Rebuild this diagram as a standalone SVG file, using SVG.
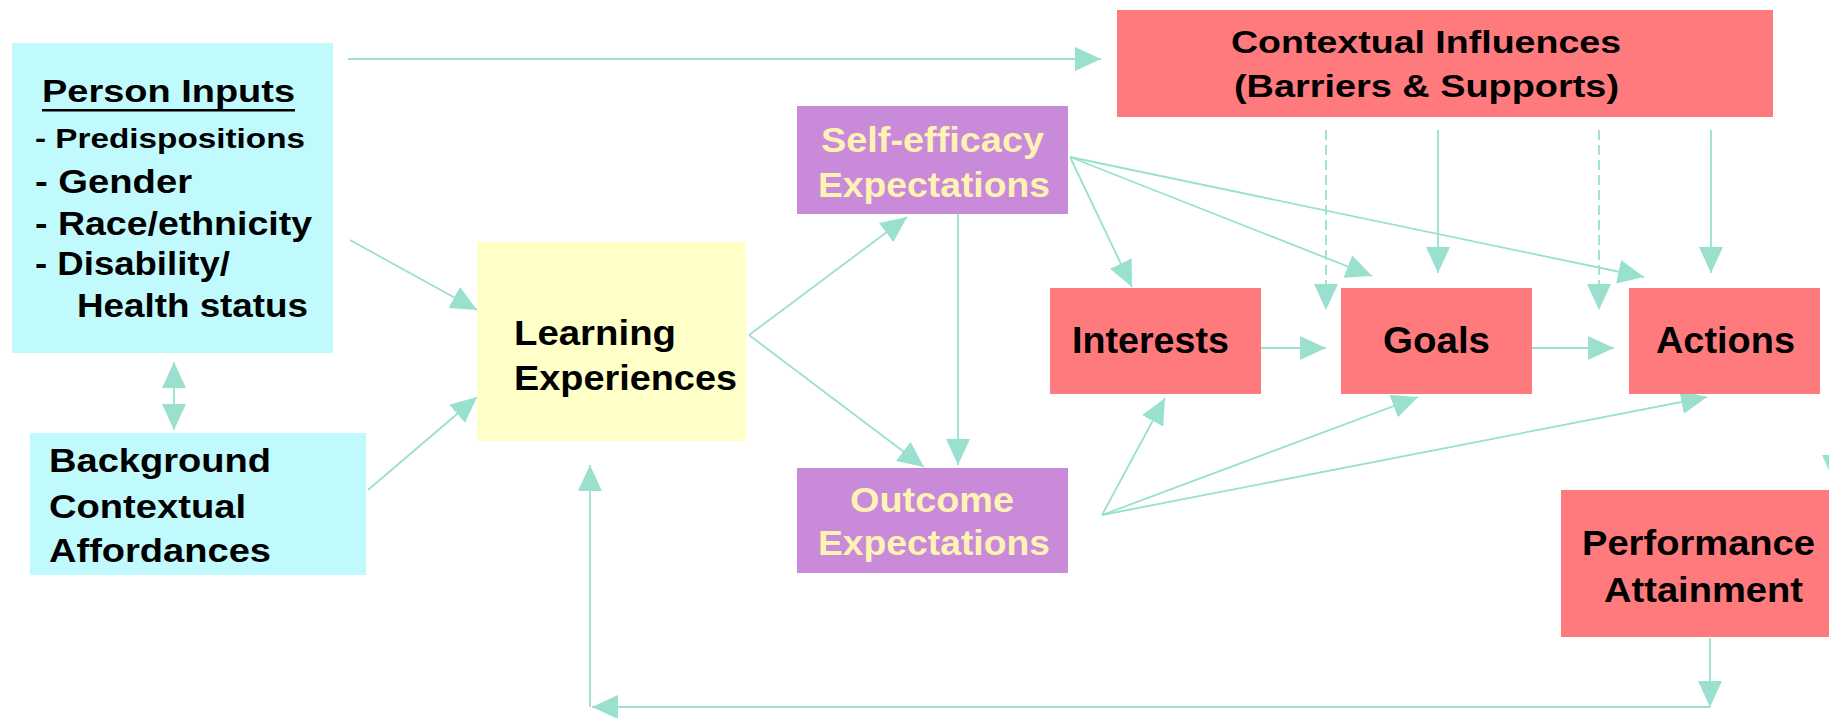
<svg xmlns="http://www.w3.org/2000/svg" width="1829" height="718" viewBox="0 0 1829 718">
  <style>
    .t { font-family: "Liberation Sans", Arial, sans-serif; font-weight: bold; fill: #000; }
    .cream { fill: #FFF3B4; }
    .box-cyan { fill: #C0FAFC; }
    .box-yellow { fill: #FFFFC8; }
    .box-purple { fill: #C98AD9; }
    .box-red { fill: #FF7A7D; }
    .conn { stroke: #99E0CF; stroke-width: 1.8; fill: none; }
    .arrow { marker-end: url(#head); }
    .dash { stroke-dasharray: 10 5; }
  </style>
  <defs>
    <marker id="head" markerUnits="userSpaceOnUse" markerWidth="26" markerHeight="24" refX="26" refY="12" orient="auto-start-reverse">
      <path d="M0,0 L26,12 L0,24 z" fill="#99E0CF"/>
    </marker>
  </defs>

  <rect width="1829" height="718" fill="#FFFFFF"/>

  <!-- connectors -->
  <g id="connectors">
    <line class="conn arrow" x1="348" y1="59" x2="1101" y2="59"/>
    <line class="conn arrow" x1="350" y1="240" x2="477" y2="310"/>
    <line class="conn arrow" x1="368" y1="490" x2="477" y2="397"/>
    <line class="conn arrow" x1="174" y1="362" x2="174" y2="430" marker-start="url(#head)"/>
    <line class="conn arrow" x1="749" y1="335" x2="907" y2="217"/>
    <line class="conn arrow" x1="749" y1="335" x2="924" y2="467"/>
    <line class="conn arrow" x1="958" y1="214" x2="958" y2="465"/>
    <line class="conn arrow" x1="1070" y1="157" x2="1132" y2="287"/>
    <line class="conn arrow" x1="1070" y1="157" x2="1372" y2="276"/>
    <line class="conn arrow" x1="1070" y1="157" x2="1644" y2="277"/>
    <line class="conn arrow" x1="1102" y1="515" x2="1165" y2="398"/>
    <line class="conn arrow" x1="1102" y1="515" x2="1418" y2="397"/>
    <line class="conn arrow" x1="1102" y1="515" x2="1707" y2="397"/>
    <line class="conn arrow" x1="1261" y1="348" x2="1326" y2="348"/>
    <line class="conn arrow" x1="1532" y1="348" x2="1614" y2="348"/>
    <line class="conn arrow" x1="1438" y1="130" x2="1438" y2="273"/>
    <line class="conn arrow" x1="1711" y1="130" x2="1711" y2="273"/>
    <line class="conn arrow dash" x1="1326" y1="130" x2="1326" y2="310"/>
    <line class="conn arrow dash" x1="1599" y1="130" x2="1599" y2="310"/>
    <line class="conn arrow" x1="1834" y1="394" x2="1834" y2="481"/>
    <line class="conn arrow" x1="1710" y1="638" x2="1710" y2="707"/>
    <line class="conn arrow" x1="1710" y1="707" x2="592" y2="707"/>
    <line class="conn arrow" x1="590" y1="707" x2="590" y2="465"/>
  </g>

  <!-- person inputs -->
  <g id="person-inputs">
    <rect class="box-cyan" x="12" y="43" width="321" height="310"/>
    <text class="t" x="42" y="102" font-size="32" textLength="253" lengthAdjust="spacingAndGlyphs">Person Inputs</text>
    <rect x="42" y="109" width="253" height="2.5" fill="#000"/>
    <text class="t" x="35" y="148" font-size="28" textLength="270" lengthAdjust="spacingAndGlyphs">- Predispositions</text>
    <text class="t" x="35" y="193" font-size="34" textLength="157" lengthAdjust="spacingAndGlyphs">- Gender</text>
    <text class="t" x="35" y="235" font-size="33" textLength="277" lengthAdjust="spacingAndGlyphs">- Race/ethnicity</text>
    <text class="t" x="35" y="275" font-size="33" textLength="195" lengthAdjust="spacingAndGlyphs">- Disability/</text>
    <text class="t" x="77" y="317" font-size="33" textLength="231" lengthAdjust="spacingAndGlyphs">Health status</text>
  </g>

  <!-- background contextual affordances -->
  <g id="background-affordances">
    <rect class="box-cyan" x="30" y="433" width="336" height="142"/>
    <text class="t" x="49" y="472" font-size="34" textLength="222" lengthAdjust="spacingAndGlyphs">Background</text>
    <text class="t" x="49" y="518" font-size="34" textLength="197" lengthAdjust="spacingAndGlyphs">Contextual</text>
    <text class="t" x="49" y="562" font-size="34" textLength="222" lengthAdjust="spacingAndGlyphs">Affordances</text>
  </g>

  <!-- learning experiences -->
  <g id="learning-experiences">
    <rect class="box-yellow" x="477" y="242" width="269" height="199"/>
    <text class="t" x="514" y="345" font-size="35" textLength="162" lengthAdjust="spacingAndGlyphs">Learning</text>
    <text class="t" x="514" y="390" font-size="35" textLength="223" lengthAdjust="spacingAndGlyphs">Experiences</text>
  </g>

  <!-- self-efficacy expectations -->
  <g id="self-efficacy">
    <rect class="box-purple" x="797" y="106" width="271" height="108"/>
    <text class="t cream" x="821" y="152" font-size="35" textLength="223" lengthAdjust="spacingAndGlyphs">Self-efficacy</text>
    <text class="t cream" x="818" y="197" font-size="35" textLength="232" lengthAdjust="spacingAndGlyphs">Expectations</text>
  </g>

  <!-- outcome expectations -->
  <g id="outcome-expectations">
    <rect class="box-purple" x="797" y="468" width="271" height="105"/>
    <text class="t cream" x="850" y="512" font-size="35" textLength="164" lengthAdjust="spacingAndGlyphs">Outcome</text>
    <text class="t cream" x="818" y="555" font-size="35" textLength="232" lengthAdjust="spacingAndGlyphs">Expectations</text>
  </g>

  <!-- contextual influences -->
  <g id="contextual-influences">
    <rect class="box-red" x="1117" y="10" width="656" height="107"/>
    <text class="t" x="1231" y="53" font-size="32" textLength="390" lengthAdjust="spacingAndGlyphs">Contextual Influences</text>
    <text class="t" x="1234" y="97" font-size="32" textLength="385" lengthAdjust="spacingAndGlyphs">(Barriers &amp; Supports)</text>
  </g>

  <!-- interests -->
  <g id="interests">
    <rect class="box-red" x="1050" y="288" width="211" height="106"/>
    <text class="t" x="1072" y="353" font-size="36" textLength="157" lengthAdjust="spacingAndGlyphs">Interests</text>
  </g>

  <!-- goals -->
  <g id="goals">
    <rect class="box-red" x="1341" y="288" width="191" height="106"/>
    <text class="t" x="1383" y="353" font-size="36" textLength="107" lengthAdjust="spacingAndGlyphs">Goals</text>
  </g>

  <!-- actions -->
  <g id="actions">
    <rect class="box-red" x="1629" y="288" width="191" height="106"/>
    <text class="t" x="1656" y="353" font-size="36" textLength="139" lengthAdjust="spacingAndGlyphs">Actions</text>
  </g>

  <!-- performance attainment -->
  <g id="performance-attainment">
    <rect class="box-red" x="1561" y="490" width="280" height="147"/>
    <text class="t" x="1582" y="555" font-size="35" textLength="233" lengthAdjust="spacingAndGlyphs">Performance</text>
    <text class="t" x="1604" y="602" font-size="35" textLength="199" lengthAdjust="spacingAndGlyphs">Attainment</text>
  </g>
</svg>
